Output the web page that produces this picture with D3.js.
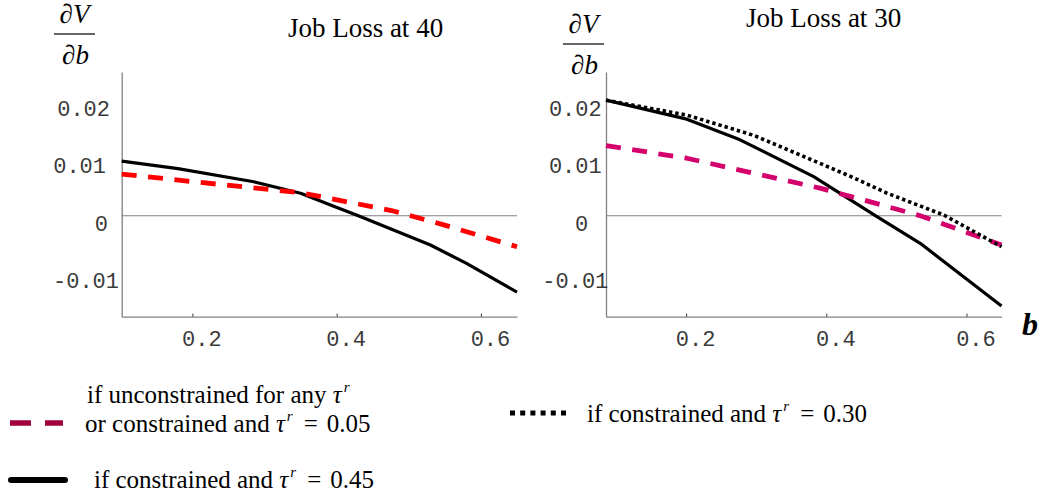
<!DOCTYPE html>
<html>
<head>
<meta charset="utf-8">
<script src="https://cdn.jsdelivr.net/npm/d3@7"></script>
<style>
  body { margin: 0; background: #fff; }
  svg { display: block; }
  .tick text { font-family: "Liberation Mono", "Courier New", monospace; font-size: 22px; fill: #3a3a3a; }
  .serif { font-family: "Liberation Serif", "Times New Roman", serif; fill: #000; }
</style>
</head>
<body>
<svg id="chart" width="1040" height="499"></svg>
<script>
// tick values and labels
const xTicks = [0.2, 0.4, 0.6];
const yTicks = [0.02, 0.01, 0, -0.01];
const yTickLabels = ['0.02', '0.01', '0', '-0.01'];

// Job loss at 40
const loss40SolidB = [0.102, 0.18, 0.285, 0.35, 0.395, 0.43, 0.53, 0.58, 0.65];
const loss40SolidV = [0.0095, 0.0082, 0.0059, 0.0039, 0.0017, 0.0, -0.0051, -0.0083, -0.0133];
const loss40DashB = [0.102, 0.21, 0.35, 0.476, 0.546, 0.65];
const loss40DashV = [0.00725, 0.0058, 0.0040, 0.0009, -0.0015, -0.0054];

// Job loss at 30
const loss30SolidB = [0.0857, 0.201, 0.277, 0.382, 0.47, 0.534, 0.65];
const loss30SolidV = [0.0201, 0.0168, 0.0132, 0.0068, 0.0, -0.0048, -0.0157];
const loss30DashB = [0.0857, 0.201, 0.296, 0.391, 0.463, 0.534, 0.65];
const loss30DashV = [0.0122, 0.0100, 0.0074, 0.0048, 0.0024, 0.0, -0.0051];
const loss30DotB = [0.0857, 0.201, 0.296, 0.391, 0.439, 0.487, 0.568, 0.65];
const loss30DotV = [0.0201, 0.0175, 0.0140, 0.0091, 0.0066, 0.0039, 0.0001, -0.0054];

const zip = (b, v) => b.map((d, i) => [d, v[i]]);

const svg = d3.select('#chart');

const y = d3.scaleLinear().domain([-0.01757, 0.025]).range([316.7, 72]);

const solidStyle = {stroke: '#000', width: 3.2, dash: null};
const panels = [
    {
        title: 'Job Loss at 40', titleX: 365.5, titleY: 37,
        xDomain: [0.102, 0.65], xRange: [121.7, 517],
        fracX: 74.5, fracY: 23,
        yLabelEnd: [-11.7, -15.7, -13.7, -2.7],
        series: [
            {data: zip(loss40SolidB, loss40SolidV), ...solidStyle},
            {data: zip(loss40DashB, loss40DashV), stroke: '#ff0000', width: 4.8, dash: '15,11.5'},
        ]
    },
    {
        title: 'Job Loss at 30', titleX: 823.5, titleY: 27,
        xDomain: [0.0857, 0.65], xRange: [606, 1001.5],
        fracX: 583.5, fracY: 33,
        yLabelEnd: [-4.3, -4.3, -17.7, 2.3],
        series: [
            {data: zip(loss30SolidB, loss30SolidV), ...solidStyle},
            {data: zip(loss30DashB, loss30DashV), stroke: '#d4006c', width: 4.8, dash: '15,11.5'},
            {data: zip(loss30DotB, loss30DotV), stroke: '#000', width: 3.6, dash: '3.4,3'},
        ]
    }
];

panels.forEach(p => {
    const x = d3.scaleLinear().domain(p.xDomain).range(p.xRange);
    const g = svg.append('g');

    // x axis at the bottom, ticks pointing up
    const gx = g.append('g')
        .attr('transform', `translate(0,${y.range()[0]})`)
        .call(d3.axisBottom(x).tickValues(xTicks).tickSize(-3).tickSizeOuter(0)
            .tickPadding(13.4).tickFormat(d3.format('.1f')));
    gx.select('.domain').attr('stroke', '#808080').attr('stroke-width', 1.3);
    gx.selectAll('.tick line').attr('stroke', '#333');
    gx.selectAll('.tick text').attr('dx', 9);

    // y axis, no tick marks
    const gy = g.append('g')
        .attr('transform', `translate(${p.xRange[0]},0)`)
        .call(d3.axisLeft(y).tickValues(yTicks).tickSize(0).tickSizeOuter(0)
            .tickPadding(0).tickFormat((d, i) => yTickLabels[i]));
    gy.select('.domain').attr('stroke', '#808080').attr('stroke-width', 1.3);
    gy.selectAll('.tick text')
        .attr('x', (d, i) => p.yLabelEnd[i])
        .attr('dy', 14.5);

    // zero line
    g.append('line')
        .attr('x1', x.range()[0]).attr('x2', x.range()[1])
        .attr('y1', y(0)).attr('y2', y(0))
        .attr('stroke', '#808080').attr('stroke-width', 1.1);

    const line = d3.line().x(d => x(d[0])).y(d => y(d[1]));
    p.series.forEach(s => {
        g.append('path')
            .attr('d', line(s.data))
            .attr('fill', 'none')
            .attr('stroke', s.stroke)
            .attr('stroke-width', s.width)
            .attr('stroke-dasharray', s.dash)
            .attr('stroke-linejoin', 'round');
    });

    // title
    g.append('text').attr('class', 'serif')
        .attr('x', p.titleX).attr('y', p.titleY)
        .attr('text-anchor', 'middle')
        .style('font-size', '27px')
        .text(p.title);

    // dV/db label
    const frac = g.append('g').attr('class', 'serif').style('font-size', '27px').style('font-style', 'italic');
    frac.append('text').attr('x', p.fracX).attr('y', p.fracY).attr('text-anchor', 'middle').text('\u2202V');
    frac.append('line')
        .attr('x1', p.fracX - 20.5).attr('x2', p.fracX + 20.5)
        .attr('y1', p.fracY + 11).attr('y2', p.fracY + 11)
        .attr('stroke', '#333').attr('stroke-width', 1.3);
    frac.append('text').attr('x', p.fracX + 1).attr('y', p.fracY + 40.5).attr('text-anchor', 'middle').text('\u2202b');
});

// axis name
svg.append('text').attr('class', 'serif')
    .attr('x', 1022).attr('y', 335)
    .style('font-size', '32px').style('font-weight', 'bold').style('font-style', 'italic')
    .text('b');

// legend
function tauText(xPos, yPos, before, after) {
    const t = svg.append('text').attr('class', 'serif')
        .attr('x', xPos).attr('y', yPos).style('font-size', '25px');
    t.append('tspan').text(before);
    t.append('tspan').style('font-style', 'italic').text('\u03c4');
    t.append('tspan').style('font-style', 'italic').style('font-size', '15px').attr('dy', -11).attr('dx', 2).text('r');
    if (after) {
        t.append('tspan').attr('dy', 11).attr('dx', 11).text('=');
        t.append('tspan').attr('dx', 9).text(after);
    }
}

svg.append('line').attr('x1', 10).attr('x2', 63).attr('y1', 423).attr('y2', 423)
    .attr('stroke', '#a0003c').attr('stroke-width', 5.5).attr('stroke-dasharray', '21,14');
tauText(87, 403, 'if unconstrained for any ', null);
tauText(85, 432, 'or constrained and ', '0.05');

svg.append('line').attr('x1', 11).attr('x2', 65).attr('y1', 480).attr('y2', 480)
    .attr('stroke', '#000').attr('stroke-width', 6).attr('stroke-linecap', 'round');
tauText(94, 488, 'if constrained and ', '0.45');

svg.append('line').attr('x1', 510).attr('x2', 566).attr('y1', 413).attr('y2', 413)
    .attr('stroke', '#000').attr('stroke-width', 5).attr('stroke-dasharray', '5,5.2');
tauText(587, 421.5, 'if constrained and ', '0.30');
</script>
</body>
</html>
